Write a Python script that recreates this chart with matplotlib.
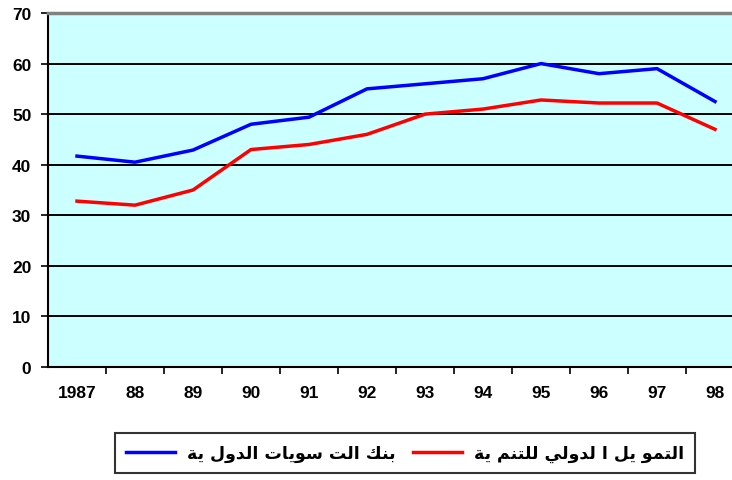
import matplotlib
matplotlib.use("Agg")
import matplotlib.pyplot as plt
import numpy as np

plt.rcParams['font.family'] = ['Liberation Sans', 'DejaVu Sans']

years = ['1987', '88', '89', '90', '91', '92', '93', '94', '95', '96', '97', '98']
bis = [41.7, 40.5, 42.9, 48.0, 49.4, 55.0, 56.0, 57.0, 60.0, 58.0, 59.0, 52.5]
idf = [32.8, 32.0, 35.0, 43.0, 44.0, 46.0, 50.0, 51.0, 52.8, 52.2, 52.2, 47.0]
label_bis = "بنك الت سويات الدول ية"
label_idf = "التمو يل ا لدولي للتنم ية"

# simple arabic shaping (matplotlib has no bidi / joining support)
forms = {
    'ا': ('\uFE8D', '\uFE8E', None, None),
    'ب': ('\uFE8F', '\uFE90', '\uFE91', '\uFE92'),
    'ة': ('\uFE93', '\uFE94', None, None),
    'ت': ('\uFE95', '\uFE96', '\uFE97', '\uFE98'),
    'د': ('\uFEA9', '\uFEAA', None, None),
    'س': ('\uFEB1', '\uFEB2', '\uFEB3', '\uFEB4'),
    'ك': ('\uFED9', '\uFEDA', '\uFEDB', '\uFEDC'),
    'ل': ('\uFEDD', '\uFEDE', '\uFEDF', '\uFEE0'),
    'م': ('\uFEE1', '\uFEE2', '\uFEE3', '\uFEE4'),
    'ن': ('\uFEE5', '\uFEE6', '\uFEE7', '\uFEE8'),
    'و': ('\uFEED', '\uFEEE', None, None),
    'ي': ('\uFEF1', '\uFEF2', '\uFEF3', '\uFEF4'),
}


def shape(text):
    out = []
    for i, ch in enumerate(text):
        if ch not in forms:
            out.append(ch)
            continue
        prev = text[i - 1] if i > 0 else ''
        nxt = text[i + 1] if i + 1 < len(text) else ''
        jp = prev in forms and forms[prev][2] is not None
        jn = nxt in forms and forms[ch][2] is not None
        iso, fin, ini, med = forms[ch]
        if jp and jn:
            out.append(med)
        elif jp:
            out.append(fin)
        elif jn:
            out.append(ini)
        else:
            out.append(iso)
    return ''.join(reversed(out))


fig = plt.figure(figsize=(7.32, 4.81), dpi=100)
ax = fig.add_axes([48 / 732, 1 - 368 / 481, 696 / 732, 354 / 481])
ax.set_facecolor('#CCFFFF')

x = np.arange(len(years))
ax.plot(x, bis, color='#0000FF', lw=2.5, label=shape(label_bis), zorder=3)
ax.plot(x, idf, color='#FF0000', lw=2.5, label=shape(label_idf), zorder=3)

ax.set_xlim(-0.5, len(years) - 0.5)
ax.set_ylim(0, 70)
ax.set_yticks(range(0, 71, 10))
ax.set_yticklabels([str(v) for v in range(0, 71, 10)], fontsize=12.5, fontweight='bold')
ax.set_xticks(x)
ax.set_xticklabels(years, fontsize=12.5, fontweight='bold')
ax.set_xticks(np.arange(0.5, len(years) - 0.5, 1), minor=True)
ax.tick_params(axis='x', which='major', length=0, pad=13)
ax.tick_params(axis='x', which='minor', length=5, width=1.2, direction='out')
ax.tick_params(axis='y', length=5, width=1.2, pad=7, direction='out')
ax.yaxis.grid(True, color='black', lw=1.4)
ax.set_axisbelow(True)

ax.spines['top'].set_color('#808080')
ax.spines['top'].set_linewidth(2.5)
ax.spines['right'].set_visible(False)
ax.spines['left'].set_linewidth(1.5)
ax.spines['bottom'].set_linewidth(1.5)

leg = fig.legend(loc='center', bbox_to_anchor=(405 / 732, 1 - 454 / 481), ncol=2,
                 frameon=True, fancybox=False, handlelength=2.8, handletextpad=0.7,
                 columnspacing=1.0, borderpad=0.65,
                 prop={'family': ['DejaVu Sans'], 'weight': 'bold', 'size': 12.5})
leg.get_frame().set_edgecolor('black')
leg.get_frame().set_linewidth(1.5)

fig.savefig('out.png', dpi=100)
